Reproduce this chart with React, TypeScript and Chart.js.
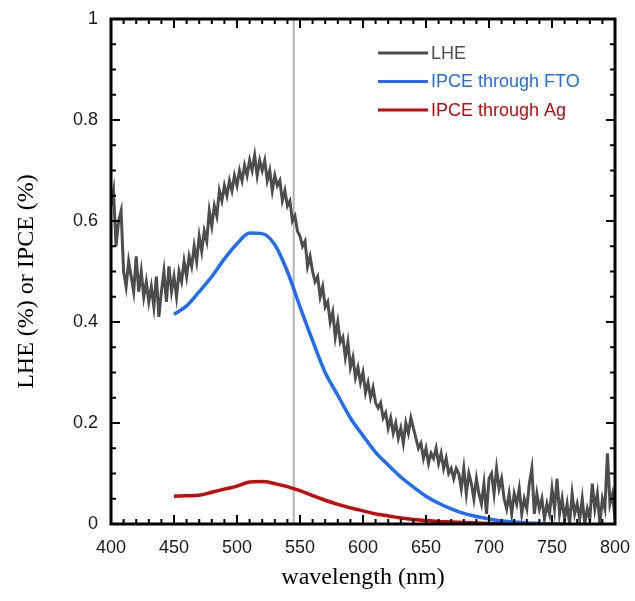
import React, { useEffect, useRef } from "react";
import { Chart, registerables } from "chart.js";

Chart.register(...registerables);

// ---- data ----
const IPCE_FTO_WAVELENGTHS = [450, 460, 470, 480, 490, 500, 510, 520, 530, 540, 550, 560, 570, 580, 590, 600, 610, 620, 630, 640, 650, 660, 670, 680, 690, 700, 710, 720, 730, 740, 750, 760];
const IPCE_FTO = [0.415, 0.432, 0.46, 0.49, 0.525, 0.555, 0.576, 0.575, 0.553, 0.5, 0.43, 0.363, 0.3, 0.255, 0.21, 0.175, 0.142, 0.117, 0.093, 0.073, 0.055, 0.041, 0.03, 0.021, 0.015, 0.01, 0.006, 0.004, 0.002, 0.001, 0.0, 0.0];

const IPCE_AG_WAVELENGTHS = [450, 460, 470, 480, 490, 500, 510, 520, 530, 540, 550, 560, 570, 580, 590, 600, 610, 620, 630, 640, 650, 660, 670, 680, 690, 700, 710];
const IPCE_AG = [0.055, 0.056, 0.057, 0.063, 0.069, 0.075, 0.083, 0.084, 0.08, 0.074, 0.066, 0.056, 0.047, 0.039, 0.032, 0.026, 0.02, 0.016, 0.012, 0.009, 0.007, 0.005, 0.004, 0.003, 0.002, 0.001, 0.0];

const LHE_START = 400;
const LHE_STEP = 2;
const LHE = [
  0.63, 0.66, 0.55, 0.60, 0.62, 0.50, 0.47, 0.52, 0.49, 0.46,
  0.53, 0.46, 0.50, 0.45, 0.48, 0.44, 0.47, 0.43, 0.49, 0.41,
  0.46, 0.50, 0.44, 0.51, 0.46, 0.49, 0.45, 0.50, 0.48, 0.52,
  0.49, 0.53, 0.51, 0.55, 0.52, 0.57, 0.54, 0.58, 0.56, 0.62,
  0.59, 0.63, 0.61, 0.66, 0.64, 0.67, 0.65, 0.68, 0.66, 0.69,
  0.67, 0.70, 0.68, 0.71, 0.69, 0.72, 0.70, 0.73, 0.69, 0.72,
  0.70, 0.72, 0.68, 0.70, 0.66, 0.69, 0.67, 0.68, 0.64, 0.66,
  0.63, 0.64, 0.60, 0.61, 0.58, 0.57, 0.55, 0.56, 0.51, 0.53,
  0.50, 0.48, 0.49, 0.45, 0.47, 0.43, 0.44, 0.40, 0.42, 0.37,
  0.40, 0.36, 0.37, 0.33, 0.36, 0.31, 0.33, 0.29, 0.31, 0.28,
  0.30, 0.26, 0.28, 0.25, 0.27, 0.24, 0.23, 0.24, 0.21, 0.22,
  0.19, 0.21, 0.18, 0.20, 0.17, 0.19, 0.16, 0.20, 0.18, 0.21,
  0.19, 0.17, 0.15, 0.16, 0.13, 0.15, 0.12, 0.14, 0.13, 0.15,
  0.12, 0.14, 0.11, 0.13, 0.10, 0.11, 0.09, 0.11, 0.10, 0.07,
  0.11, 0.06, 0.10, 0.08, 0.05, 0.09, 0.06, 0.04, 0.08, 0.02,
  0.09, 0.10, 0.06, 0.11, 0.07, 0.09, 0.05, 0.03, 0.06, 0.02,
  0.06, 0.04, 0.07, 0.02, 0.05, 0.03, 0.08, 0.11, 0.02, 0.06,
  0.03, 0.05, 0.01, 0.04, 0.02, 0.07, 0.03, 0.09, 0.02, 0.05,
  0.01, 0.04, 0.00, 0.06, 0.02, 0.04, 0.01, 0.05, 0.00, 0.03,
  0.01, 0.08, 0.03, 0.06, 0.00, 0.05, 0.03, 0.14, 0.04, 0.06,
  0.01,
];

const X_TICKS = [400, 450, 500, 550, 600, 650, 700, 750, 800];
const Y_TICKS = [0, 0.2, 0.4, 0.6, 0.8, 1];
const X_MINOR_STEP = 10;
const Y_MINOR_STEP = 0.05;
const MARKER_WAVELENGTH = 545;

const SERIES_LABELS = ["LHE", "IPCE through FTO", "IPCE through Ag"];
const SERIES_COLORS = ["#4d4d4d", "#1f6cf5", "#c40a0a"];
const Y_TITLE = "LHE (%) or IPCE (%)";
const X_TITLE = "wavelength (nm)";

const SANS = "'Liberation Sans', Arial, sans-serif";
const SERIF = "'Liberation Serif', 'Times New Roman', serif";

const framePlugin = {
  id: "framePlugin",
  beforeDatasetsDraw(chart: any) {
    const { ctx, chartArea, scales } = chart;
    const x = scales.x.getPixelForValue(MARKER_WAVELENGTH);
    ctx.save();
    ctx.strokeStyle = "#b4b4b4";
    ctx.lineWidth = 2;
    ctx.beginPath();
    ctx.moveTo(x, chartArea.top);
    ctx.lineTo(x, chartArea.bottom);
    ctx.stroke();
    ctx.restore();
  },
  afterDatasetsDraw(chart: any) {
    const { ctx, chartArea, scales } = chart;
    const { left, right, top, bottom } = chartArea;
    const xs = scales.x;
    const ys = scales.y;
    ctx.save();
    ctx.strokeStyle = "#000";
    ctx.lineWidth = 2;
    for (let v = xs.min; v <= xs.max + 1e-9; v += X_MINOR_STEP) {
      const major = X_TICKS.some((t) => Math.abs(t - v) < 1e-6);
      const len = major ? 9 : 5;
      const px = xs.getPixelForValue(v);
      ctx.beginPath();
      ctx.moveTo(px, bottom);
      ctx.lineTo(px, bottom - len);
      ctx.moveTo(px, top);
      ctx.lineTo(px, top + len);
      ctx.stroke();
    }
    const n = Math.round((ys.max - ys.min) / Y_MINOR_STEP);
    for (let i = 0; i <= n; i++) {
      const v = ys.min + i * Y_MINOR_STEP;
      const major = Y_TICKS.some((t) => Math.abs(t - v) < 1e-6);
      const len = major ? 9 : 5;
      const py = ys.getPixelForValue(v);
      ctx.beginPath();
      ctx.moveTo(left, py);
      ctx.lineTo(left + len, py);
      ctx.moveTo(right, py);
      ctx.lineTo(right - len, py);
      ctx.stroke();
    }
    ctx.lineWidth = 3;
    ctx.strokeRect(left, top, right - left, bottom - top);
    ctx.restore();

    // legend
    ctx.save();
    const lx0 = left + 267;
    const lx1 = left + 317;
    const ty = top + 34;
    const gap = 28.5;
    ctx.font = `18px ${SANS}`;
    ctx.textBaseline = "middle";
    ctx.textAlign = "left";
    chart.data.datasets.forEach((ds: any, i: number) => {
      const y = ty + i * gap;
      ctx.strokeStyle = ds.borderColor;
      ctx.lineWidth = 3;
      ctx.beginPath();
      ctx.moveTo(lx0, y);
      ctx.lineTo(lx1, y);
      ctx.stroke();
      ctx.fillStyle = ds.borderColor;
      ctx.fillText(ds.label, lx1 + 3, y + 1);
    });
    ctx.restore();

    // y title
    ctx.save();
    ctx.font = `24px ${SERIF}`;
    ctx.fillStyle = "#000";
    ctx.textAlign = "center";
    ctx.textBaseline = "middle";
    ctx.translate(27, (top + bottom) / 2 + 10);
    ctx.rotate(-Math.PI / 2);
    ctx.fillText(Y_TITLE, 0, 0);
    ctx.restore();
  },
};

export default function App() {
  const canvasRef = useRef<HTMLCanvasElement | null>(null);

  useEffect(() => {
    const canvas = canvasRef.current;
    if (!canvas) return;
    const lhePoints = LHE.map((v, i) => ({ x: LHE_START + i * LHE_STEP, y: v }));
    const ftoPoints = IPCE_FTO_WAVELENGTHS.map((w, i) => ({ x: w, y: IPCE_FTO[i] }));
    const agPoints = IPCE_AG_WAVELENGTHS.map((w, i) => ({ x: w, y: IPCE_AG[i] }));

    const chart = new Chart(canvas, {
      type: "line",
      data: {
        datasets: [
          {
            label: SERIES_LABELS[0],
            data: lhePoints,
            borderColor: SERIES_COLORS[0],
            backgroundColor: SERIES_COLORS[0],
            borderWidth: 3,
            pointRadius: 0,
            tension: 0,
            order: 3,
          },
          {
            label: SERIES_LABELS[1],
            data: ftoPoints,
            borderColor: SERIES_COLORS[1],
            backgroundColor: SERIES_COLORS[1],
            borderWidth: 3.5,
            pointRadius: 0,
            cubicInterpolationMode: "monotone",
            order: 2,
          },
          {
            label: SERIES_LABELS[2],
            data: agPoints,
            borderColor: SERIES_COLORS[2],
            backgroundColor: SERIES_COLORS[2],
            borderWidth: 3.5,
            pointRadius: 0,
            cubicInterpolationMode: "monotone",
            order: 1,
          },
        ],
      },
      options: {
        animation: false,
        responsive: false,
        maintainAspectRatio: false,
        layout: { padding: { left: 0, top: 19, right: 20, bottom: 0 } },
        plugins: { legend: { display: false }, tooltip: { enabled: false } },
        scales: {
          x: {
            type: "linear",
            min: 400,
            max: 800,
            afterBuildTicks: (scale: any) => {
              scale.ticks = X_TICKS.map((v) => ({ value: v }));
            },
            afterFit: (scale: any) => {
              scale.height = 77;
              scale.paddingLeft = 0;
              scale.paddingRight = 0;
            },
            grid: { display: false, drawTicks: false },
            border: { display: false },
            ticks: {
              padding: 13,
              color: "#1a1a1a",
              font: { family: SANS, size: 18 },
              maxRotation: 0,
              callback: (v: any) => String(v),
            },
            title: {
              display: true,
              text: X_TITLE,
              color: "#000",
              font: { family: SERIF, size: 24 },
              padding: { top: 0, bottom: 9 },
            },
          },
          y: {
            type: "linear",
            min: 0,
            max: 1,
            afterBuildTicks: (scale: any) => {
              scale.ticks = Y_TICKS.map((v) => ({ value: v }));
            },
            afterFit: (scale: any) => {
              scale.width = 111;
              scale.paddingTop = 0;
              scale.paddingBottom = 0;
            },
            grid: { display: false, drawTicks: false },
            border: { display: false },
            ticks: {
              padding: 13,
              color: "#1a1a1a",
              font: { family: SANS, size: 18 },
              callback: (v: any) => String(v),
            },
          },
        },
      },
      plugins: [framePlugin],
    });
    return () => chart.destroy();
  }, []);

  return (
    <div style={{ position: "absolute", left: 0, top: 0, width: 635, height: 601, background: "#fff" }}>
      <canvas ref={canvasRef} width={635} height={601} style={{ width: 635, height: 601, display: "block" }} />
    </div>
  );
}
